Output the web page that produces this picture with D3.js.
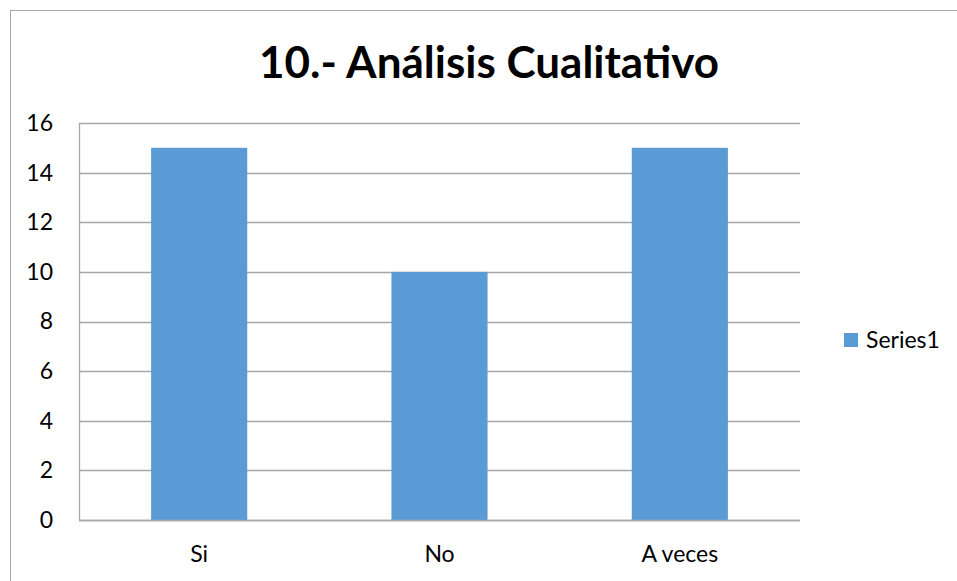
<!DOCTYPE html>
<style>
body { margin: 0; background: #fff; }
text { font-family: Lato, "Open Sans", sans-serif; fill: #000; }
</style>
<svg width="957" height="581" class="chart"></svg>
<script src="https://d3js.org/d3.v7.min.js"></script>
<script>

var categories = ["Si", "No", "A veces"];
var values = [15, 10, 15];
var yTicks = [0, 2, 4, 6, 8, 10, 12, 14, 16];
var seriesName = "Series1";
var title = "10.- Análisis Cualitativo";

var svg = d3.select(".chart"),
    margin = {top: 123, right: 157, bottom: 61, left: 79},
    width = +svg.attr("width") - margin.left - margin.right,
    height = +svg.attr("height") - margin.top - margin.bottom;

// outer chart frame
svg.append("rect")
    .attr("x", 10.5).attr("y", 10.5)
    .attr("width", 960).attr("height", 600)
    .attr("fill", "none")
    .attr("stroke", "#a6a6a6");

svg.append("text")
    .attr("x", 489)
    .attr("y", 78)
    .attr("text-anchor", "middle")
    .attr("font-size", 44)
    .attr("font-weight", "bold")
    .text(title);

var g = svg.append("g").attr("transform", "translate(" + margin.left + "," + margin.top + ")");

var x = d3.scaleBand()
    .domain(categories)
    .range([0, width])
    .paddingInner(0.6)
    .paddingOuter(0.3);

var y = d3.scaleLinear()
    .domain([0, 16])
    .range([height, 0]);

// gridlines
g.append("g")
  .selectAll("line")
  .data(yTicks)
  .enter().append("line")
    .attr("x1", 0)
    .attr("x2", width)
    .attr("y1", function(d) { return Math.round(y(d)) + 0.5; })
    .attr("y2", function(d) { return Math.round(y(d)) + 0.5; })
    .attr("stroke", "#a6a6a6")
    .attr("stroke-width", 1.3);

g.append("line")
    .attr("x1", 0.5).attr("x2", 0.5)
    .attr("y1", 0).attr("y2", height)
    .attr("stroke", "#a6a6a6")
    .attr("stroke-width", 1.3);

g.append("g")
  .selectAll("rect")
  .data(values)
  .enter().append("rect")
    .attr("x", function(d, i) { return x(categories[i]); })
    .attr("y", function(d) { return y(d); })
    .attr("width", x.bandwidth())
    .attr("height", function(d) { return height - y(d); })
    .attr("fill", "#5b9bd5");

// baseline redrawn on top
g.append("line")
    .attr("x1", 0).attr("x2", width)
    .attr("y1", height + 0.5).attr("y2", height + 0.5)
    .attr("stroke", "#a6a6a6")
    .attr("stroke-width", 1.3);

var yAxis = g.append("g")
    .call(d3.axisLeft(y).tickValues(yTicks).tickSize(0).tickPadding(26));
yAxis.select(".domain").remove();
yAxis.selectAll("text").attr("font-size", 23).attr("fill", "#000");

var xAxis = g.append("g")
    .attr("transform", "translate(0," + height + ")")
    .call(d3.axisBottom(x).tickSize(0).tickPadding(26));
xAxis.select(".domain").remove();
xAxis.selectAll("text").attr("font-size", 23).attr("fill", "#000");
svg.selectAll(".tick text").attr("font-family", "Lato, 'Open Sans', sans-serif");

var legend = svg.append("g").attr("transform", "translate(844,333)");
legend.append("rect")
    .attr("width", 14).attr("height", 14)
    .attr("fill", "#5b9bd5");
legend.append("text")
    .attr("x", 22).attr("y", 15)
    .attr("font-size", 23)
    .text(seriesName);

</script>
